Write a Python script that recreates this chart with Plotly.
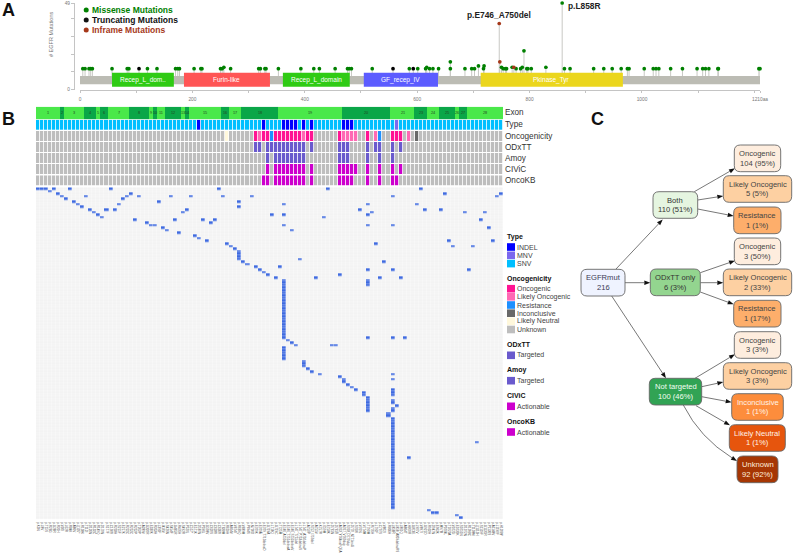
import plotly.graph_objects as go

W, H = 793, 559
FONT = "Liberation Sans, Arial, sans-serif"

# ---------- Panel A data ----------
missense_pos = [5, 9, 16, 19, 22, 57, 84, 87, 120, 137, 170, 174, 177, 203, 215, 217, 250, 253, 256, 268,
                318, 321, 329, 331, 353, 393, 416, 426, 454, 476, 479, 483, 520, 586, 601, 615, 617, 622,
                628, 638, 659, 659, 685, 697, 702, 709, 718, 719, 750, 753, 757, 759, 769, 776, 784, 787,
                790, 795, 797, 803, 829, 858, 862, 872, 914, 932, 947, 963, 974, 977, 1004, 1020, 1025,
                1030, 1051, 1072, 1098, 1108, 1113, 1119, 1135, 1136, 1208, 1210]
missense_cnt = [1, 1, 1, 1, 1, 1, 1, 1, 1, 1, 1, 1, 1, 1, 1, 1, 1, 1, 2, 1,
                1, 1, 1, 1, 1, 1, 1, 1, 1, 1, 1, 1, 1, 1, 1, 1, 2, 1,
                1, 1, 1, 6, 1, 1, 1, 3, 1, 3, 2, 1, 1, 1, 2, 1, 1, 2,
                14, 1, 1, 1, 2, 49, 1, 1, 1, 1, 1, 1, 1, 1, 1, 1, 1,
                1, 1, 1, 1, 1, 1, 1, 1, 1, 1, 1]
trunc_pos = [105, 557, 593]
trunc_cnt = [1, 1, 1]
inframe_pos = [746, 747, 772]
inframe_cnt = [34, 6, 2]
domain_names = ["Recep_L_dom..", "Furin-like", "Recep_L_domain", "GF_recep_IV", "Pkinase_Tyr"]
domain_start = [57, 185, 361, 505, 713]
domain_end = [167, 338, 480, 637, 966]
protein_len = 1210

# ---------- Panel B data ----------
exon_names = [str(i) for i in range(1, 22)] + ["23", "24", "25", "26", "27", "28"]
exon_sizes = [6, 1, 5, 3, 1, 2, 5, 5, 1, 1, 2, 4, 1, 1, 8, 2, 3, 9, 16, 12, 6, 3, 3, 4, 1, 2, 9]
column_labels = [
    "p.K3N", "p.L8V", "p.T15S", "p.R26G", "p.G28R", "p.R31H",
    "p.V30I",
    "p.L62R", "p.R84K", "p.A86V", "p.Q105*", "p.R108K",
    "p.T112I", "p.D126N", "p.R132C",
    "p.R149Q",
    "p.D170N", "p.S177F",
    "p.C190Y", "p.R203H", "p.S215F", "p.E217K", "p.R222C",
    "p.R252C", "p.R252P", "p.T263P", "p.A289V", "p.G320R",
    "p.E330K",
    "p.R353H",
    "p.L393F", "p.I416V",
    "p.S426N", "p.S454F", "p.G465R", "p.R476H",
    "p.S492R",
    "p.P520L",
    "p.C557*", "p.E571K", "p.D587N", "p.P596L", "p.G598V", "p.C620S", "p.C628Y", "p.C636Y",
    "p.T638M", "p.R659H",
    "p.A664V", "p.V674I", "p.R669Q",
    "p.V689M", "p.P694S", "p.N700D", "p.E709K", "p.E709A", "p.E709_T710delinsD", "p.G719A", "p.L718Q", "p.G719C",
    "p.T725M", "p.E746_A750del", "p.E746_T751delinsA", "p.E746_S752delinsV", "p.L747_T751del",
    "p.L747_P753delinsS", "p.L747_A750delinsP", "p.A750P", "p.S752_I759del", "p.A755V", "p.K757R",
    "p.I759M", "p.E758K", "p.D761N", "p.D761Y", "p.A763_Y764insFQEA",
    "p.A767_V769dup", "p.S768_D770dup", "p.D770_N771insG", "p.S768I", "p.V769L", "p.V774M", "p.T790M",
    "p.R776H", "p.L792F", "p.C797S", "p.V802I", "p.R836H",
    "p.L858R", "p.L858_A859delinsRS", "p.L861Q", "p.A864T", "p.H870R", "p.G873E",
    "p.L907V", "p.V897I", "p.G921D",
    "p.R932H", "p.D947N", "p.E963K",
    "p.M978I", "p.P1004L", "p.T1020A", "p.V1025I",
    "p.E1030K",
    "p.S1051N", "p.D1072N",
    "p.R1098C", "p.T1108M", "p.Q1113H", "p.S1119F", "p.G1135R", "p.P1136S", "p.A1148V", "p.L1190F", "p.H1208Y",
]
indel_cols = [40, 56, 61, 62, 63, 64, 66, 68, 76, 77, 78]
mnv_cols = [89]
oncogenic_cols = [54, 56, 57, 59, 60, 61, 62, 63, 64, 65, 67, 68, 75, 82, 88, 89, 90]
likely_onc_cols = [55, 66, 76, 77, 78, 79, 84, 92]
resistance_cols = [58, 85]
inconclusive_cols = [94]
likely_neutral_cols = [47]
odxtt_cols = [54, 55, 57, 58, 59, 60, 61, 62, 63, 64, 65, 66, 68, 75, 76, 77, 82, 84, 85, 88, 90]
amoy_cols = [57, 59, 60, 61, 62, 63, 64, 65, 66, 75, 76, 77, 82, 85, 88]
civic_cols = [57, 59, 60, 61, 62, 63, 64, 65, 66, 68, 75, 76, 77, 78, 79, 82, 85, 88, 90]
oncokb_cols = [56, 57, 59, 60, 61, 62, 63, 64, 65, 66, 68, 75, 76, 77, 78, 82, 85, 88, 89]

row_hits = {
    0: [0, 1, 2, 4, 8, 18, 45, 72, 95], 1: [3], 2: [5, 23, 101, 115],
    3: [6, 12, 22, 25, 33, 38, 46, 53, 88, 114], 4: [7, 21], 5: [9, 30, 50],
    6: [10, 20, 61, 82, 94], 7: [11, 50], 8: [13, 17, 19, 37, 80, 96, 100],
    9: [14, 36, 83, 106, 111], 10: [15, 58, 61, 82], 11: [16, 71], 12: [24, 34, 41, 44, 110],
    13: [27, 43], 14: [28, 29, 61, 82, 88], 15: [31, 112], 16: [32, 63], 17: [35], 18: [39], 19: [40],
    20: [42, 102, 113], 21: [47, 84], 22: [48, 103, 108], 23: [49], 24: [50], 25: [50], 26: [50],
    27: [50, 65], 28: [51, 86], 29: [52], 30: [54, 60], 31: [55, 82, 88, 107], 32: [56], 33: [57, 75],
    34: [59, 69, 85, 90], 35: [61, 82], 36: [61, 82], 37: [61, 82], 38: [61], 39: [61], 40: [61],
    41: [61], 42: [61], 43: [61], 44: [61], 45: [61], 46: [61], 47: [61], 48: [61], 49: [61], 50: [61],
    51: [61], 52: [61], 53: [61], 54: [61], 55: [61], 56: [61], 57: [61, 82, 88, 91], 58: [62], 59: [63],
    60: [64, 73, 74], 61: [61], 62: [61], 63: [61], 64: [61], 65: [61], 66: [66], 67: [66], 68: [66],
    69: [67], 70: [68], 71: [70, 88], 72: [75], 73: [76, 88], 74: [76], 75: [77], 76: [78],
    77: [79, 88], 78: [81, 88], 79: [81, 88], 80: [82], 81: [82, 88], 82: [82, 88], 83: [82, 89],
    84: [82, 88], 85: [82, 88], 86: [87], 87: [87], 88: [88], 89: [88], 90: [88], 91: [88], 92: [88],
    93: [88], 94: [88], 95: [88], 96: [88], 97: [88, 109], 98: [88], 99: [88], 100: [88], 101: [88],
    102: [88], 103: [88, 92], 104: [88], 105: [88], 106: [88], 107: [88], 108: [88], 109: [88],
    110: [88], 111: [88], 112: [88], 113: [88], 114: [88], 115: [88], 116: [88], 117: [88], 118: [88],
    119: [88], 120: [88], 121: [88], 122: [88], 123: [97], 124: [98, 99], 125: [104], 126: [105],
}
n_rows = 127

annotation_rows = ["Type", "Oncogenicity", "ODxTT", "Amoy", "CIViC", "OncoKB"]

legend_groups = [
    ("Type", [("INDEL", "#0000ff"), ("MNV", "#7b68ee"), ("SNV", "#00bfff")]),
    ("Oncogenicity", [("Oncogenic", "#ff1493"), ("Likely Oncogenic", "#ff69b4"), ("Resistance", "#1e90ff"),
                      ("Inconclusive", "#696969"), ("Likely Neutral", "#fff8dc"), ("Unknown", "#bebebe")]),
    ("ODxTT", [("Targeted", "#6a5acd")]),
    ("Amoy", [("Targeted", "#6a5acd")]),
    ("CIViC", [("Actionable", "#cd00cd")]),
    ("OncoKB", [("Actionable", "#cd00cd")]),
]

# ---------- Panel C data ----------
node_names = ["EGFRmut", "Both", "ODxTT only", "Not targeted",
              "Oncogenic", "Likely Oncogenic", "Resistance",
              "Oncogenic", "Likely Oncogenic", "Resistance",
              "Oncogenic", "Likely Oncogenic", "Inconclusive", "Likely Neutral", "Unknown"]
node_values = ["216", "110 (51%)", "6 (3%)", "100 (46%)",
               "104 (95%)", "5 (5%)", "1 (1%)",
               "3 (50%)", "2 (33%)", "1 (17%)",
               "3 (3%)", "3 (3%)", "1 (1%)", "1 (1%)", "92 (92%)"]

# ---------- Styling / layout (pixel space) ----------
def nx(px):
    return px / W

def ny(py):
    return 1 - py / H

node_boxes = [(581, 625, 269.3, 296), (653, 697.7, 191.7, 218.3), (650.3, 700.3, 269, 295.7), (649.3, 701.7, 378.3, 405),
              (734.3, 780.7, 145, 171.7), (723.3, 791.7, 175.7, 202.3), (733.7, 781, 207, 233.7),
              (734.3, 780.7, 238, 264.7), (723.3, 791.7, 269, 295.7), (733.7, 781, 300.3, 327),
              (734.3, 780.7, 331.7, 358.3), (723.3, 791.7, 362.7, 389.3), (731.7, 783.3, 393.7, 420.3),
              (729.3, 785.3, 424.7, 451.3), (737, 778, 456, 482.7)]
node_fill = ["#eff3ff", "#e5f5e0", "#93d58f", "#31a354",
             "#feedde", "#fdd0a2", "#fdae6b",
             "#feedde", "#fdd0a2", "#fdae6b",
             "#feedde", "#fdd0a2", "#fd8d3c", "#e6550d", "#a63603"]
node_text = ["#3b3b55", "#333", "#333", "#f2fff2",
             "#444", "#444", "#444", "#444", "#444", "#444", "#444", "#444",
             "#fff4e8", "#fff4e8", "#ffeedd"]
edges = [((616, 269), (662.7, 219.5)), ((625, 282.7), (650.3, 282.7)), ((611.7, 296), (666, 378.3)),
         ((694.3, 191.7), (735, 168.3)), ((697.7, 200), (723.3, 196)), ((697.7, 209), (733.7, 216)),
         ((700.3, 272.7), (735, 260.7)), ((700.3, 282.7), (723.3, 282.7)), ((700.3, 292), (733.7, 304.3)),
         ((695, 378.3), (735, 354.3)), ((701.7, 386.7), (723.3, 382)), ((701.7, 396.7), (731.7, 402.3)),
         ((696, 405.7), (730, 425.3))]

fig = go.Figure()

# Panel A ------------------------------------------------------------------
y_px_per = 67 / 49
base_cnt = -6 / y_px_per
for pos, cnt, col in [(missense_pos, missense_cnt, "#008000"), (trunc_pos, trunc_cnt, "#000000"),
                      (inframe_pos, inframe_cnt, "#a5381a")]:
    sx, sy = [], []
    for p, c in zip(pos, cnt):
        sx += [p, p, None]
        sy += [base_cnt, c, None]
    fig.add_trace(go.Scatter(x=sx, y=sy, mode="lines", line=dict(color="#c8c8c4", width=1),
                             hoverinfo="skip", xaxis="x", yaxis="y", showlegend=False))
for pos, cnt, col in [(missense_pos, missense_cnt, "#008000"), (trunc_pos, trunc_cnt, "#000000"),
                      (inframe_pos, inframe_cnt, "#a5381a")]:
    fig.add_trace(go.Scatter(x=pos, y=cnt, mode="markers", marker=dict(color=col, size=3.7),
                             xaxis="x", yaxis="y", showlegend=False, cliponaxis=False))
# left count axis
fig.add_trace(go.Scatter(x=[0], y=[0], mode="markers", marker=dict(opacity=0), xaxis="x", yaxis="y2",
                         showlegend=False, hoverinfo="skip"))

shapes = []
annotations = []

def px_text(x, y, text, size=8, color="#333", xanchor="center", bold=False, yanchor="middle", angle=0):
    annotations.append(dict(x=x, y=y, xref="x9", yref="y9", text=f"<b>{text}</b>" if bold else text,
                            showarrow=False, xanchor=xanchor, yanchor=yanchor, textangle=angle,
                            font=dict(size=size, color=color, family=FONT), borderpad=0, borderwidth=0))

shapes.append(dict(type="rect", xref="x", yref="y", x0=0, x1=protein_len, y0=-6 / y_px_per, y1=-14.3 / y_px_per,
                   fillcolor="#bcbcb4", line_width=0, layer="below"))
dom_col = ["#2fcb14", "#ff5555", "#2fcb14", "#5c5cff", "#ebd61d"]
for name, a, b, c in zip(domain_names, domain_start, domain_end, dom_col):
    shapes.append(dict(type="rect", xref="x", yref="y", x0=a, x1=b, y0=-2.7 / y_px_per, y1=-16.7 / y_px_per,
                       fillcolor=c, line_width=0))
    annotations.append(dict(x=(a + b) / 2, y=-9.7 / y_px_per, xref="x", yref="y", text=name, showarrow=False,
                            font=dict(size=6.5, color="#ffffff", family=FONT)))
annotations.append(dict(x=746, y=34, xref="x", yref="y", text="<b>p.E746_A750del</b>", showarrow=False,
                        yshift=9, font=dict(size=8.4, color="#222", family=FONT)))
annotations.append(dict(x=858, y=49, xref="x", yref="y", text="<b>p.L858R</b>", showarrow=False, xanchor="left",
                        xshift=4, yshift=-2.5, font=dict(size=8.4, color="#222", family=FONT)))
for yy, t, c in [(10, "Missense Mutations", "#008000"), (20, "Truncating Mutations", "#111111"),
                 (30, "Inframe Mutations", "#a5381a")]:
    shapes.append(dict(type="circle", xref="x9", yref="y9", x0=83.7, x1=88.7, y0=yy - 2.5, y1=yy + 2.5,
                       fillcolor=c, line_width=0))
    px_text(92, yy, t, size=8.5, color=c, xanchor="left", bold=True)
px_text(51, 35, "# EGFR Mutations", size=5.5, color="#777", angle=-90)

# Panel B ------------------------------------------------------------------
n_cols = len(column_labels)
cols = list(range(n_cols))

exon_z, idx = [], 0
for i, s in enumerate(exon_sizes):
    exon_z += [i % 2] * s
fig.add_trace(go.Heatmap(z=[exon_z], x=cols, y=["Exon"], xaxis="x2", yaxis="y3", showscale=False, hoverinfo="skip",
                         zmin=0, zmax=1, colorscale=[[0, "#4ae84a"], [1, "#0aa648"]]))
start = 0
for name, s in zip(exon_names, exon_sizes):
    annotations.append(dict(x=start + s / 2 - 0.5, y=0, xref="x2", yref="y3", text=name, showarrow=False,
                            font=dict(size=3.8, color="#224422", family=FONT)))
    start += s

def row_from(*sets):
    out = [0] * n_cols
    for code, s in sets:
        for c in s:
            out[c] = code
    return out

gray = "#bebebe"
def cs(colors):
    n = len(colors)
    scale = []
    for i, c in enumerate(colors):
        scale += [[i / n, c], [(i + 1) / n, c]]
    return scale

type_row = row_from((1, mnv_cols), (2, indel_cols))
onc_row = row_from((1, oncogenic_cols), (2, likely_onc_cols), (3, resistance_cols), (4, inconclusive_cols),
                   (5, likely_neutral_cols))
palette = ["#00bfff", "#7b68ee", "#0000ff"]
onc_palette = ["#bebebe", "#ff1493", "#ff69b4", "#1e90ff", "#696969", "#fff8dc"]
fig.add_trace(go.Heatmap(z=[type_row], x=cols, y=["Type"], xaxis="x2", yaxis="y4", showscale=False, hoverinfo="skip",
                         zmin=-0.5, zmax=2.5, colorscale=cs(palette), xgap=0.8))
fig.add_trace(go.Heatmap(z=[onc_row], x=cols, y=["Oncogenicity"], xaxis="x2", yaxis="y5", showscale=False,
                         hoverinfo="skip", zmin=-0.5, zmax=5.5, colorscale=cs(onc_palette), xgap=0.8))
for axis, cset, col in [("y6", odxtt_cols, "#6a5acd"), ("y7", amoy_cols, "#6a5acd"),
                        ("y8", civic_cols, "#cd00cd"), ("y10", oncokb_cols, "#cd00cd")]:
    fig.add_trace(go.Heatmap(z=[row_from((1, cset))], x=cols, y=[0], xaxis="x2", yaxis=axis, showscale=False,
                             hoverinfo="skip", zmin=-0.5, zmax=1.5, colorscale=cs([gray, col]), xgap=0.8))

main_z = []
for r in range(n_rows):
    line = [0] * n_cols
    for c in row_hits.get(r, []):
        line[c] = 1
    main_z.append(line)
fig.add_trace(go.Heatmap(z=main_z, x=cols, y=list(range(n_rows)), xaxis="x2", yaxis="y11", showscale=False,
                         hoverinfo="skip", zmin=0, zmax=1, colorscale=[[0, "#f3f3f3"], [1, "#3f6ae0"]],
                         xgap=0.3, ygap=0.3))

row_label_y = [112.8, 124.8, 136, 147.2, 158, 169.2, 180.5]
for t, yy in zip(["Exon"] + annotation_rows, row_label_y):
    px_text(505.3, yy, t, size=8.2, color="#333", xanchor="left")

title_y = [236.7, 278.7, 344.3, 370, 395.7, 421]
swatch_y = [[247, 255.3, 263.6], [288.7, 296.8, 305, 313.2, 321.4, 329.5], [355.3], [380.7], [406.3], [432]]
for (title, items), ty, sy in zip(legend_groups, title_y, swatch_y):
    px_text(507, ty, title, size=7, color="#111", xanchor="left", bold=True)
    for (lab, col), yy in zip(items, sy):
        shapes.append(dict(type="rect", xref="x9", yref="y9", x0=507, x1=515, y0=yy - 3.8, y1=yy + 3.8,
                           fillcolor=col, line_width=0))
        px_text(517.3, yy, lab, size=7, color="#444", xanchor="left")

for t, x0, y0 in [("A", 1.5, 10), ("B", 1.5, 119), ("C", 590.5, 119)]:
    px_text(x0, y0, t, size=18, color="#111", xanchor="left", bold=True)

# Panel C ------------------------------------------------------------------
def round_rect(x0, x1, y0, y1, r=6):
    return (f"M{x0 + r},{y0} L{x1 - r},{y0} Q{x1},{y0} {x1},{y0 + r} L{x1},{y1 - r} Q{x1},{y1} {x1 - r},{y1} "
            f"L{x0 + r},{y1} Q{x0},{y1} {x0},{y1 - r} L{x0},{y0 + r} Q{x0},{y0} {x0 + r},{y0} Z")

def arrow_head(p0, p1, length=6, half=2.2):
    dx, dy = p1[0] - p0[0], p1[1] - p0[1]
    d = (dx * dx + dy * dy) ** 0.5
    ux, uy = dx / d, dy / d
    bx, by = p1[0] - ux * length, p1[1] - uy * length
    shapes.append(dict(type="path", xref="x9", yref="y9", fillcolor="#111", line_width=0,
                       path=f"M{p1[0]},{p1[1]} L{bx - uy * half},{by + ux * half} L{bx + uy * half},{by - ux * half} Z"))
    return bx, by

for p0, p1 in edges:
    bx, by = arrow_head(p0, p1)
    shapes.append(dict(type="path", xref="x9", yref="y9", path=f"M{p0[0]},{p0[1]} L{bx},{by}",
                       line=dict(color="#555", width=0.8)))
# curved edge to the Unknown node
curve_end = (737, 461)
bx, by = arrow_head((726, 454), curve_end)
shapes.append(dict(type="path", xref="x9", yref="y9", path=f"M683.3,405 Q700,438 {bx},{by}",
                   line=dict(color="#555", width=0.8)))

for name, val, box, fill, tc in zip(node_names, node_values, node_boxes, node_fill, node_text):
    x0, x1, y0, y1 = box
    shapes.append(dict(type="path", xref="x9", yref="y9", path=round_rect(x0, x1, y0, y1), fillcolor=fill,
                       line=dict(color="#666", width=0.9)))
    cx, cy = (x0 + x1) / 2, (y0 + y1) / 2
    px_text(cx, cy - 4.7, name, size=7.6, color=tc)
    px_text(cx, cy + 4.7, val, size=7.6, color=tc)

# overlay axis holder
fig.add_trace(go.Scatter(x=[0], y=[0], mode="markers", marker=dict(opacity=0), xaxis="x9", yaxis="y9",
                         showlegend=False, hoverinfo="skip"))

hidden = dict(visible=False, fixedrange=True)
ticks_aa = [0, 100, 200, 300, 400, 500, 600, 700, 800, 900, 1000, 1100, 1200, 1210]
tick_txt = ["0", "", "200", "", "400", "", "600", "", "800", "", "1000", "", "", "1210aa"]

fig.update_layout(
    template="none",
    width=W, height=H, autosize=False, margin=dict(l=0, r=0, t=0, b=0),
    paper_bgcolor="white", plot_bgcolor="rgba(0,0,0,0)", showlegend=False,
    font=dict(family=FONT),
    xaxis=dict(domain=[nx(80), nx(760)], range=[0, protein_len], anchor="y", showgrid=False, zeroline=False,
               showline=True, linecolor="#c4c4c4", linewidth=1, ticks="outside", ticklen=2.5, tickcolor="#c4c4c4",
               tickvals=ticks_aa, ticktext=tick_txt, tickfont=dict(size=4.8, color="#777"), ticklabelstandoff=2),
    yaxis=dict(domain=[ny(89.5), ny(3)], range=[-19.5 / y_px_per, 49], visible=False, fixedrange=True),
    yaxis2=dict(domain=[ny(70), ny(3)], range=[0, 49], anchor="free", overlaying="y", position=nx(74), side="left",
                showgrid=False, zeroline=False, showline=True, linecolor="#c4c4c4", linewidth=1, ticks="outside",
                ticklen=3, tickcolor="#c4c4c4", tickvals=[0, 10, 20, 30, 40, 49],
                ticktext=["0", "", "", "", "", "49"], tickfont=dict(size=4.8, color="#777")),
    xaxis2=dict(domain=[nx(36), nx(503.3)], range=[-0.5, n_cols - 0.5], anchor="y11", showgrid=False, zeroline=False,
                tickmode="array", tickvals=cols, ticktext=column_labels, tickangle=90, ticks="",
                tickfont=dict(size=3, color="#444"), automargin=False, ticklabelstandoff=2),
    yaxis3=dict(domain=[ny(119.3), ny(106.7)], anchor="x2", **hidden),
    yaxis4=dict(domain=[ny(130), ny(119.7)], anchor="x2", **hidden),
    yaxis5=dict(domain=[ny(141), ny(131)], anchor="x2", **hidden),
    yaxis6=dict(domain=[ny(152.3), ny(142)], anchor="x2", **hidden),
    yaxis7=dict(domain=[ny(163.3), ny(153)], anchor="x2", **hidden),
    yaxis8=dict(domain=[ny(174.3), ny(164)], anchor="x2", **hidden),
    yaxis10=dict(domain=[ny(185.7), ny(175.3)], anchor="x2", **hidden),
    yaxis11=dict(domain=[ny(519.3), ny(187.3)], range=[n_rows - 0.5, -0.5], anchor="x2", showticklabels=False,
                 showgrid=False, zeroline=False, ticks="", fixedrange=True),
    xaxis9=dict(domain=[0, 1], range=[0, W], anchor="y9", **hidden),
    yaxis9=dict(domain=[0, 1], range=[H, 0], anchor="x9", **hidden),
    shapes=shapes, annotations=annotations,
)

fig.write_html("out.html", config={"displayModeBar": False},
               post_script="document.body.style.margin='0';document.documentElement.style.overflow='hidden';")
